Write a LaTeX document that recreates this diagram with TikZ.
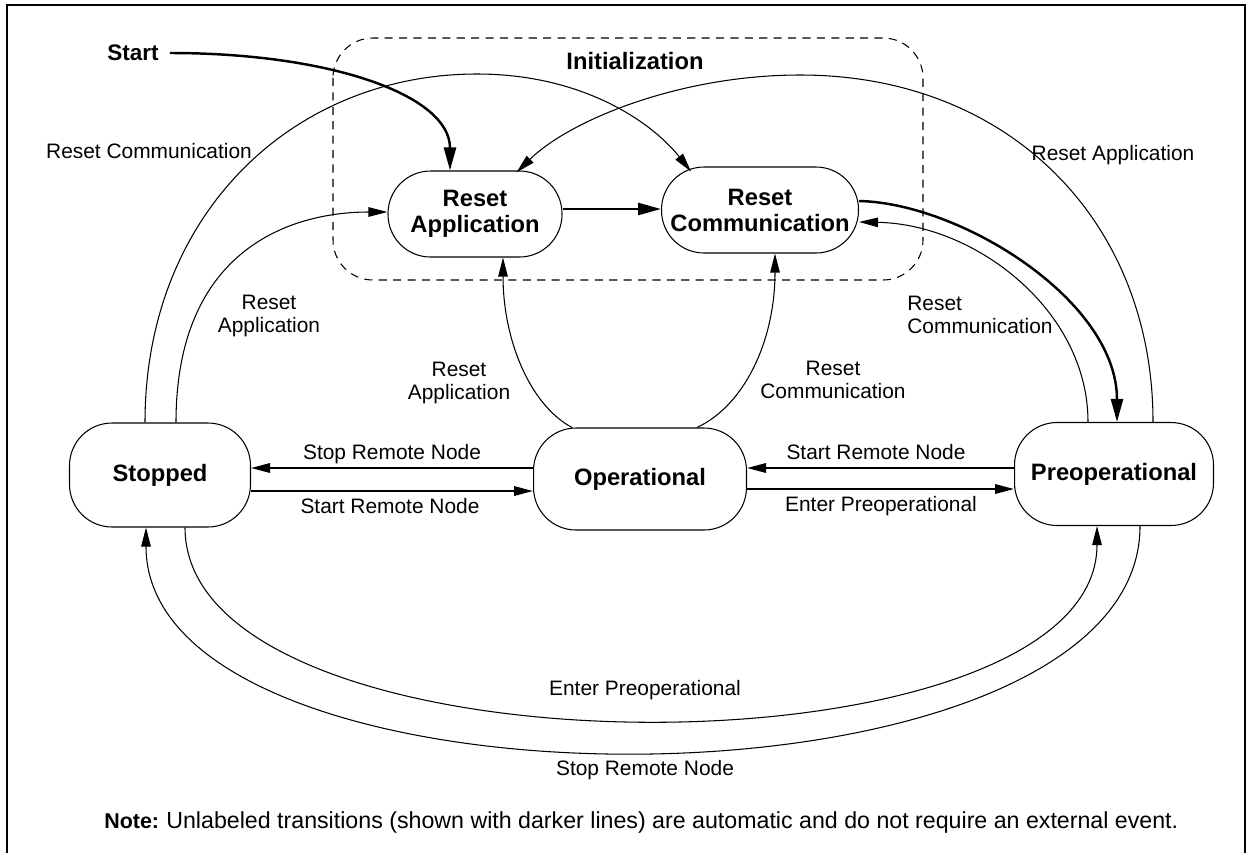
\documentclass[tikz,border=0pt]{standalone}
\usepackage{fontspec}
\setmainfont{Liberation Sans}
\usetikzlibrary{arrows.meta, calc}

\begin{document}
\begin{tikzpicture}[
    x=0.02cm, y=-0.02cm,
    statebox/.style={rectangle, rounded corners=0.85cm, draw,
        line width=0.6pt, inner sep=0pt, align=center,
        font=\fontsize{13.5}{14.8}\selectfont\bfseries},
    headtext/.style={inner sep=0pt,
        font=\fontsize{12.8}{14}\selectfont\bfseries},
    translabel/.style={inner sep=0pt, align=center,
        font=\fontsize{11.9}{12.8}\selectfont},
    evarrow/.style={-{Triangle[length=0.38cm, width=0.19cm]}, line width=0.6pt},
    hzarrow/.style={-{Triangle[length=0.38cm, width=0.19cm]}, line width=1pt},
    autoarrow/.style={-{Triangle[length=0.46cm, width=0.24cm]}, line width=1.4pt},
    initbox/.style={draw, line width=0.6pt,
        dash pattern=on 4.6pt off 3.6pt, rounded corners=0.8cm},
]
\useasboundingbox (0,0) rectangle (1250,853);

% ── FRAME AND INITIALIZATION GROUP ─────────────────────────────────────────
\draw[line width=1.5pt] (7,853) -- (7,5) -- (1245,5) -- (1245,853);
\draw[initbox] (333,38) rectangle (923,280);
\node[headtext, font=\fontsize{13.5}{14.8}\selectfont\bfseries]
    at (635,61) (initlabel) {Initialization};

% ── STATES ─────────────────────────────────────────────────────────────────
\node[statebox, minimum width=3.48cm, minimum height=1.72cm]
    at (475,214)  (resetapp)    {Reset\\Application};
\node[statebox, minimum width=3.94cm, minimum height=1.72cm]
    at (760,210)  (resetcomm)   {Reset\\Communication};
\node[statebox, minimum width=3.62cm, minimum height=2.08cm]
    at (160,475)  (stopped)     {Stopped};
\node[statebox, minimum width=4.26cm, minimum height=2.04cm]
    at (640,479)  (operational) {Operational};
\node[statebox, minimum width=3.98cm, minimum height=2.06cm]
    at (1114,474) (preop)       {Preoperational};

\node[headtext] at (133,53) (start) {Start};

% ── AUTOMATIC TRANSITIONS (darker lines) ───────────────────────────────────
\draw[autoarrow] ($(start.east)+(11,0)$)
    .. controls (330,53) and (450,95) .. ($(resetapp.north)+(-25,0)$);
\draw[autoarrow] ($(resetapp.east)+(0,-5)$) -- ($(resetcomm.west)+(0,-1)$);
\draw[autoarrow] ($(resetcomm.east)+(0,-9)$)
    .. controls (960,203) and (1117,300) .. ($(preop.north)+(3,0)$);

% ── RESET TRANSITIONS ──────────────────────────────────────────────────────
\draw[evarrow] ($(stopped.north)+(-15,0)$)
    .. controls (145,215) and (292,74) .. (477,74)
    .. controls (580,74) and (650,120) .. ($(resetcomm.north west)+(30,5)$);
\draw[evarrow] ($(stopped.north)+(16,0)$)
    .. controls (176,250) and (290,212) .. ($(resetapp.west)+(0,-2)$);
\draw[evarrow] ($(preop.north)+(39,0)$)
    .. controls (1153,222) and (1010,75) .. (800,75)
    .. controls (680,75) and (570,120) .. ($(resetapp.north east)+(-46,2)$);
\draw[evarrow] ($(preop.north)+(-26,0)$)
    .. controls (1088,310) and (975,224) .. ($(resetcomm.east)+(0,12)$);
\draw[evarrow] ($(operational.north)+(-68,0)$)
    .. controls (530,405) and (503,340) .. ($(resetapp.south)+(28,0)$);
\draw[evarrow] ($(operational.north)+(57,0)$)
    .. controls (745,405) and (775,340) .. ($(resetcomm.south)+(15,0)$);

\node[translabel] at (149,151)  (lblcommstop) {Reset Communication};
\node[translabel] at (269,316)  (lblappstop)  {Reset\\Application};
\node[translabel] at (1113,155) (lblapppre)   {Reset Application};
\node[translabel, align=left] at (980,315) (lblcommpre) {Reset\\Communication};
\node[translabel] at (459,383)  (lblappop)    {Reset\\Application};
\node[translabel] at (833,380)  (lblcommop)   {Reset\\Communication};

% ── NODE CONTROL TRANSITIONS ───────────────────────────────────────────────
\draw[hzarrow] (operational.west |- 0,468) -- (stopped.east |- 0,468);
\draw[hzarrow] (stopped.east |- 0,491) -- (operational.west |- 0,491);
\draw[hzarrow] (preop.west |- 0,468) -- (operational.east |- 0,468);
\draw[hzarrow] (operational.east |- 0,489) -- (preop.west |- 0,489);

\node[translabel] at (392,454) (lblstopop)  {Stop Remote Node};
\node[translabel] at (390,506) (lblstartop) {Start Remote Node};
\node[translabel] at (876,452) (lblstartpre) {Start Remote Node};
\node[translabel] at (881,506) (lblenterop)  {Enter Preoperational};

\draw[evarrow] ($(stopped.south)+(25,0)$)
    .. controls +(0,257) and +(0,258) .. ($(preop.south)+(-17,0)$);
\draw[evarrow] ($(preop.south)+(26,0)$)
    .. controls +(0,300) and +(0,300) .. ($(stopped.south)+(-14,0)$);

\node[translabel] at (645,690) (lblenterstop) {Enter Preoperational};
\node[translabel] at (645,770) (lblstoppre)   {Stop Remote Node};

% ── NOTE ───────────────────────────────────────────────────────────────────
\node[headtext, font=\fontsize{12.2}{13}\selectfont\bfseries, anchor=base west]
    at (104,828) (notehead) {Note:};
\node[translabel, font=\fontsize{13.2}{14}\selectfont, anchor=base west]
    at (166,828) (notetext)
    {Unlabeled transitions (shown with darker lines) are automatic and do not require an external event.};

\end{tikzpicture}
\end{document}
